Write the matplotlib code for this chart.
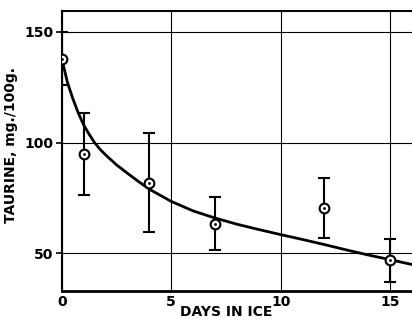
import matplotlib
matplotlib.use('Agg')
import matplotlib.pyplot as plt

# measured taurine values (mg/100g) with error bars
days = [0, 1, 4, 7, 12, 15]
taurine = [138, 95, 82, 63.5, 70.5, 47]
err = [12, 18.5, 22.5, 12, 13.5, 9.7]

# fitted curve
curve_x = [0, 0.25, 0.5, 0.75, 1, 1.25, 1.5, 1.75, 2, 2.5, 3, 3.5, 4, 5, 6,
           7, 8, 9, 10, 11, 12, 13, 14, 15, 16]
curve_y = [138, 127.5, 120, 113.5, 108, 103.8, 100, 97, 94.5, 90, 86.2,
           82.5, 79, 73.5, 69.2, 66, 63.2, 60.8, 58.5, 56.3, 54, 51.6, 49.3,
           47.2, 45]

xticks = [0, 5, 10, 15]
yticks = [50, 100, 150]

plt.rcParams['font.family'] = 'DejaVu Sans'
plt.rcParams['font.weight'] = 'bold'

fig = plt.figure(figsize=(4.12, 3.22), dpi=100)
ax = fig.add_axes([0.150, 0.096, 0.85, 0.870])

ax.grid(True, color='black', linewidth=0.8)
ax.set_axisbelow(True)

ax.plot(curve_x, curve_y, color='black', linewidth=2.0, zorder=3)
ax.errorbar(days, taurine, yerr=err, fmt='none', ecolor='black',
            elinewidth=1.5, capsize=4, capthick=1.5, zorder=4)
ax.plot(days, taurine, 'o', markersize=7, markerfacecolor='white',
        markeredgecolor='black', markeredgewidth=1.5, zorder=5)
ax.plot(days, taurine, '.', markersize=2, color='black', zorder=6)

ax.set_xlim(0, 16)
ax.set_ylim(33, 159.5)
ax.set_xticks(xticks)
ax.set_yticks(yticks)
ax.set_xticklabels([str(t) for t in xticks], fontsize=10, fontweight='bold')
ax.set_yticklabels([str(t) for t in yticks], fontsize=10, fontweight='bold')
ax.tick_params(axis='x', length=0, pad=3)
ax.tick_params(axis='y', length=4, width=1.2, pad=2)

ax.spines['right'].set_visible(False)
ax.spines['left'].set_linewidth(1.5)
ax.spines['top'].set_linewidth(1.5)
ax.spines['bottom'].set_linewidth(2.0)

ax.set_xlabel('DAYS IN ICE', fontsize=10, fontweight='bold')
ax.xaxis.set_label_coords(0.47, -0.05)
ax.set_ylabel('TAURINE, mg./100g.', fontsize=10, fontweight='bold')
ax.yaxis.set_label_coords(-0.125, 0.52)

fig.savefig('out.png', dpi=100)
